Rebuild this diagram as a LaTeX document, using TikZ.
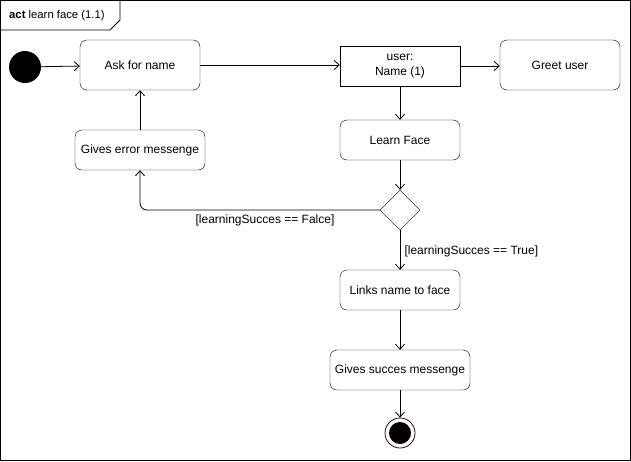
\documentclass[tikz,border=0pt]{standalone}
\usepackage{fontspec}
\setmainfont{Liberation Sans}
\usepackage{tikz}
\usetikzlibrary{positioning,arrows.meta,shapes.geometric,calc}

\begin{document}
\begin{tikzpicture}[
  x=1pt, y=-1pt,
  font=\fontsize{12}{14.5}\selectfont,
  abox/.style={draw, rounded corners=7pt, align=center, minimum width=120pt, minimum height=50pt, inner sep=2pt},
  obox/.style={draw, align=center, minimum width=120pt, minimum height=40pt, inner sep=2pt},
  choice/.style={draw, diamond, minimum width=40pt, minimum height=40pt, inner sep=0pt},
  arr/.style={-{Straight Barb[length=5pt,width=9pt]}, line width=0.8pt},
  guard/.style={font=\fontsize{12}{14}\selectfont},
]
\useasboundingbox (0,0) rectangle (631,461);
% frame
\draw[line width=0.8pt] (0.5,0.5) rectangle (630.5,460.5);
\draw[line width=0.8pt] (0.5,30) -- (110,30) -- (120,20) -- (120,0.5);
\node[anchor=west, inner sep=0pt, font=\fontsize{11.3}{13}\selectfont] (title) at (9,16) {\textbf{act} learn face (1.1)};

% nodes
\node[circle, fill=black, minimum size=32pt, inner sep=0pt] (start) at (25,67) {};
\node[abox] (ask) at (140,65) {Ask for name};
\node[obox, minimum height=40pt] (name) at (400,66) {user:\\Name (1)};
\node[abox] (greet) at (560,65) {Greet user};
\node[abox, minimum height=40pt] (learn) at (400,140) {Learn Face};
\node[abox, minimum width=130pt, minimum height=40pt] (error) at (140,150) {Gives error messenge};
\node[choice] (dec) at (400,210) {};
\node[abox, minimum height=40pt] (links) at (400,290) {Links name to face};
\node[abox, minimum width=140pt, minimum height=40pt] (succes) at (400,370) {Gives succes messenge};
\node[circle, draw=black!60!red!60!black, fill=white, line width=0.8pt, minimum size=30pt, inner sep=0pt] (end) at (400,433) {};
\node[circle, fill=black, minimum size=22pt, inner sep=0pt] (endin) at (end) {};

% flows
\draw[arr] (start) -- (ask);
\draw[arr] (ask.east) -- (ask.east -| name.west);
\draw[arr] (name) -- (name -| greet.west);
\draw[arr] (name) -- (learn);
\draw[arr] (learn) -- (dec);
\draw[arr, rounded corners=7pt] (dec.west) -| (error.south);
\draw[arr] (error) -- (ask);
\draw[arr] (dec) -- (links);
\draw[arr] (links) -- (succes);
\draw[arr] (succes) -- (end);

% guards
\node[guard] (gfalse) at (265,220) {[learningSucces == Falce]};
\node[guard, anchor=west] (gtrue) at (401,251) {[learningSucces == True]};
\end{tikzpicture}
\end{document}
